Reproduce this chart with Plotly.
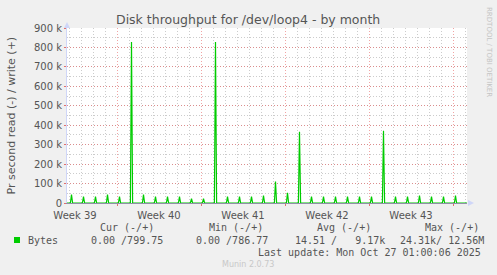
import pandas as pd
import plotly.graph_objects as go

# ---- data ----
spike_dates = pd.date_range("2025-09-25", "2025-10-27", freq="D").strftime("%Y-%m-%d").tolist()
spike_values_k = [43, 33, 33, 43, 33, 828, 43, 33, 33, 33, 22, 22, 828, 33, 33,
                  33, 38, 110, 53, 367, 33, 33, 33, 33, 33, 33, 372, 33, 33, 38,
                  33, 33, 38]
week_labels = ["Week 39", "Week 40", "Week 41", "Week 42", "Week 43"]
week_starts = ["2025-09-22", "2025-09-29", "2025-10-06", "2025-10-13", "2025-10-20"]
y_tickvals = [0, 100000, 200000, 300000, 400000, 500000, 600000, 700000, 800000, 900000]
y_ticktext = ["0", "100 k", "200 k", "300 k", "400 k", "500 k", "600 k", "700 k", "800 k", "900 k"]
legend_headers = ["Cur (-/+)", "Min (-/+)", "Avg (-/+)", "Max (-/+)"]
legend_values = ["0.00 /799.75", "0.00 /786.77", "14.51 /   9.17k", "24.31k/ 12.56M"]
series_name = "Bytes"
last_update = "Last update: Mon Oct 27 01:00:06 2025"

# ---- layout geometry ----
W, H = 497, 275
ML, MR, MT, MB = 67, 30, 28, 72
PW, PH = W - ML - MR, H - MT - MB
x_start = pd.Timestamp("2025-09-24 20:00")
x_end = pd.Timestamp("2025-10-28 04:00")
spike_hour = pd.Timedelta(hours=5)
half = pd.Timedelta(hours=2.2)

GREEN = "#00cc00"
FONT = "DejaVu Sans"
MONO = "DejaVu Sans Mono"
TXT = "#555555"

# write series built from spikes on a zero baseline
xs, ys = [x_start], [0]
for d, v in zip(spike_dates, spike_values_k):
    t = pd.Timestamp(d) + spike_hour
    xs += [t - half, t, t + half]
    ys += [0, v * 1000, 0]
xs.append(x_end)
ys.append(0)

week_mid = [pd.Timestamp(s) + pd.Timedelta(days=3.5) for s in week_starts]

fig = go.Figure()
fig.add_trace(go.Scatter(x=xs, y=ys, mode="lines",
                         line=dict(color=GREEN, width=1.2),
                         hoverinfo="skip", showlegend=False))
fig.add_trace(go.Scatter(x=week_mid, y=[0] * len(week_mid), xaxis="x2",
                         mode="markers", marker=dict(opacity=0),
                         hoverinfo="skip", showlegend=False))


def px(xp):
    return (xp - ML) / PW


def py(yp):
    return (H - MB - yp) / PH


ann = []
ann.append(dict(text="Disk throughput for /dev/loop4 - by month", x=px(248), y=py(19),
                font=dict(family=FONT, size=12.5, color=TXT)))
ann.append(dict(text="Pr second read (-) / write (+)", x=px(11), y=py(115.5), textangle=-90,
                font=dict(family=FONT, size=11, color=TXT)))
ann.append(dict(text="RRDTOOL / TOBI OETIKER", x=px(489), y=py(52), textangle=90,
                font=dict(family=FONT, size=7, color="#c4c4c4")))
header_left = [98, 207, 315, 423]
value_left = [89, 194, 293, 398]
for h, xl in zip(legend_headers, header_left):
    ann.append(dict(text=h.replace(" ", "\u00a0"), x=px(xl), y=py(227), xanchor="left",
                    font=dict(family=MONO, size=10, color=TXT)))
for v, xl in zip(legend_values, value_left):
    ann.append(dict(text=v.replace(" ", "\u00a0"), x=px(xl), y=py(240), xanchor="left",
                    font=dict(family=MONO, size=10, color=TXT)))
ann.append(dict(text=series_name, x=px(26), y=py(240), xanchor="left",
                font=dict(family=MONO, size=10, color=TXT)))
ann.append(dict(text=last_update, x=px(483), y=py(252), xanchor="right",
                font=dict(family=MONO, size=10, color=TXT)))
ann.append(dict(text="Munin 2.0.73", x=px(248), y=py(264),
                font=dict(family=FONT, size=8, color="#c8c8c8")))
for a in ann:
    a.update(xref="paper", yref="paper", showarrow=False, yanchor=a.get("yanchor", "middle"))
    a.setdefault("xanchor", "center")

shapes = [
    # legend colour square
    dict(type="rect", xref="paper", yref="paper", x0=px(14), x1=px(20), y0=py(243), y1=py(237),
         fillcolor=GREEN, line=dict(width=0)),
    # y-axis arrow
    dict(type="path", xref="paper", yref="paper", xsizemode="pixel", ysizemode="pixel",
         xanchor=0, yanchor=1, path="M -3,0 L 3,0 L 0,6 Z",
         fillcolor="#cfd6f8", line=dict(width=0)),
    # x-axis arrow
    dict(type="path", xref="paper", yref="paper", xsizemode="pixel", ysizemode="pixel",
         xanchor=1, yanchor=0, path="M 1,-3 L 1,3 L 7,0 Z",
         fillcolor="#cfd6f8", line=dict(width=0)),
]

fig.update_layout(
    width=W, height=H,
    margin=dict(l=ML, r=MR, t=MT, b=MB, pad=0),
    paper_bgcolor="#f0f0f0", plot_bgcolor="#ffffff",
    showlegend=False,
    annotations=ann, shapes=shapes,
    xaxis=dict(type="date", range=[x_start, x_end], showticklabels=False,
               tick0="2025-09-29", dtick=7 * 86400000,
               showgrid=True, gridcolor="rgba(230,90,90,0.55)", griddash="1px,2px", gridwidth=1,
               ticks="outside", ticklen=2, tickcolor="#e07070",
               minor=dict(dtick=86400000, tick0="2025-09-29", showgrid=True,
                          gridcolor="rgba(170,170,170,0.6)", griddash="1px,2px", ticks=""),
               showline=True, linecolor="#9090a8", linewidth=1, zeroline=False,
               fixedrange=True),
    xaxis2=dict(type="date", range=[x_start, x_end], overlaying="x", anchor="y", side="bottom",
                tickvals=week_mid, ticktext=week_labels, showgrid=False,
                ticks="outside", ticklen=3, tickcolor="rgba(0,0,0,0)",
                tickfont=dict(family=FONT, size=10, color=TXT), showline=False,
                zeroline=False, fixedrange=True),
    yaxis=dict(range=[0, 900000], tickvals=y_tickvals, ticktext=y_ticktext,
               tickfont=dict(family=FONT, size=10, color=TXT),
               showgrid=True, gridcolor="rgba(230,90,90,0.55)", griddash="1px,2px",
               ticks="outside", ticklen=2, tickcolor="#e07070",
               minor=dict(dtick=50000, showgrid=True, gridcolor="rgba(170,170,170,0.6)",
                          griddash="1px,2px", ticks=""),
               showline=True, linecolor="#cfd6f8", linewidth=1, zeroline=False,
               fixedrange=True),
)

fig.write_html("out.html")
